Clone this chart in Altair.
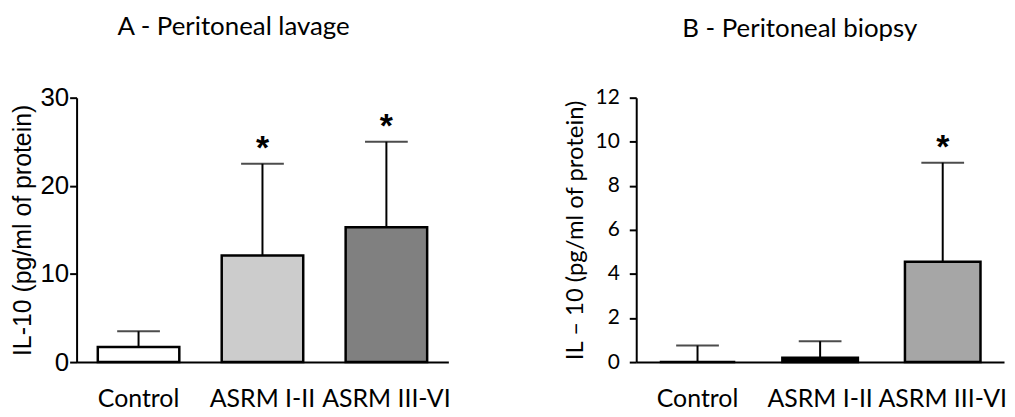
import altair as alt
import pandas as pd

groups = ["Control", "ASRM I-II", "ASRM III-VI"]

a_mean = [1.7, 12.1, 15.3]
a_upper = [3.5, 22.5, 25.0]
a_fill = ["#ffffff", "#cccccc", "#808080"]
a_star = ["", "*", "*"]

b_mean = [0.0, 0.2, 4.55]
b_upper = [0.75, 0.95, 9.05]
b_fill = ["#ffffff", "#000000", "#a6a6a6"]
b_star = ["", "", "*"]

a_ticks = [0, 10, 20, 30]
b_ticks = [0, 2, 4, 6, 8, 10, 12]

dfa = pd.DataFrame({"group": groups, "mean": a_mean, "upper": a_upper, "fill": a_fill, "star": a_star})
dfb = pd.DataFrame({"group": groups, "mean": b_mean, "upper": b_upper, "fill": b_fill, "star": b_star})

CAT_FONT = "Lato"


def panel(df, title, ytitle, ydomain, yticks, yfont, ylabsize, ylabpad, ytitsize, ytitpad, width, barsize, title_dx):
    x = alt.X("group:N", sort=groups, title=None,
              scale=alt.Scale(paddingInner=0.33, paddingOuter=0.165),
              axis=alt.Axis(labelAngle=0, ticks=False, domainColor="black", domainWidth=2,
                            labelFont=CAT_FONT, labelFontSize=25, labelColor="black",
                            labelPadding=25, labelLimit=300))
    y_axis = alt.Axis(values=yticks, grid=False, domainColor="black", domainWidth=2,
                      tickColor="black", tickWidth=2, tickSize=7,
                      labelFont=yfont, labelFontSize=ylabsize, labelColor="black",
                      labelPadding=ylabpad, titleFont=yfont, titleFontSize=ytitsize,
                      titleFontWeight="normal", titleColor="black", titlePadding=ytitpad)
    base = alt.Chart(df).encode(x=x)
    bars = base.mark_bar(size=barsize, stroke="black", strokeWidth=2.5).encode(
        y=alt.Y("mean:Q", title=ytitle, scale=alt.Scale(domain=ydomain, nice=False, zero=True), axis=y_axis),
        fill=alt.Fill("fill:N", scale=None),
    )
    rule = base.mark_rule(color="black", strokeWidth=2).encode(y="mean:Q", y2="upper:Q")
    cap = base.mark_tick(color="black", size=43, thickness=2).encode(y="upper:Q")
    star = base.mark_text(font="Liberation Sans", fontSize=34, fontWeight="bold", color="black",
                          baseline="alphabetic", dy=-5).encode(y="upper:Q", text="star:N")
    return alt.layer(bars, rule, cap, star).properties(
        width=width, height=266,
        title=alt.TitleParams(text=title, font=CAT_FONT, fontSize=26, fontWeight="normal",
                              color="black", anchor="middle", frame="bounds",
                              baseline="alphabetic", offset=24, dx=title_dx),
    )


pa = panel(dfa, "A - Peritoneal lavage", "IL-10 (pg/ml of protein)", [0, 30], a_ticks,
           "Liberation Sans", 26, 1, 25, 4, 374, 82, 3)
pb = panel(dfb, "B - Peritoneal biopsy", "IL \u2013 10 (pg/ml of protein)", [0, 12], b_ticks,
           CAT_FONT, 21, 10, 24, 8, 370, 76, 15)

chart = alt.hconcat(pa, pb, spacing=113).configure_view(stroke=None).properties(
    padding={"left": 3, "top": 5, "right": 0, "bottom": 0})

chart.save("out.html", embed_options={"renderer": "svg", "actions": False})
